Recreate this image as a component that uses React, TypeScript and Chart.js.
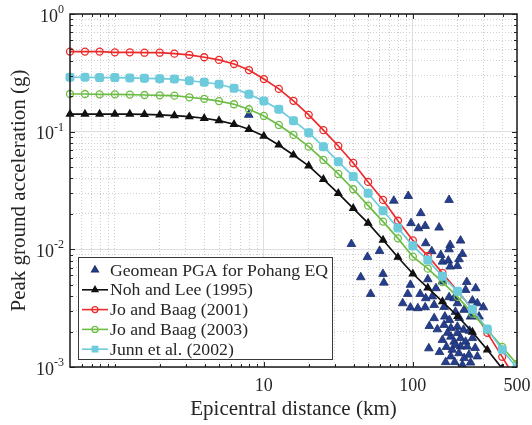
import React, { useEffect, useRef } from 'react';
import { Chart, registerables } from 'chart.js';

Chart.register(...registerables);

const FONT = "'Liberation Serif', 'Times New Roman', serif";
const TEXT = '#262626';

// Model evaluation distances (km)
const distanceKm = [0.5, 0.63, 0.79, 1.0, 1.26, 1.58, 2.0, 2.51, 3.16, 3.98, 5.0, 6.31, 7.94, 10.0, 12.6, 15.8, 20.0, 25.1, 31.6, 39.8, 50.1, 63.1, 79.4, 100, 126, 158, 200, 251, 316, 398, 500];

const nohLee1995 = [0.141, 0.141, 0.141, 0.141, 0.141, 0.1405, 0.1387, 0.1368, 0.134, 0.13, 0.124, 0.1156, 0.1048, 0.0919, 0.0771, 0.0634, 0.0512, 0.0394, 0.0299, 0.0223, 0.0167, 0.012, 0.00857, 0.0062, 0.0047, 0.0036, 0.0027, 0.00198, 0.0014, 0.00097, 0.00066];
const joBaag2001 = [0.479, 0.479, 0.479, 0.472, 0.472, 0.469, 0.469, 0.46, 0.449, 0.429, 0.407, 0.376, 0.334, 0.28, 0.231, 0.183, 0.139, 0.103, 0.0756, 0.0542, 0.0374, 0.0263, 0.0175, 0.0119, 0.0088, 0.0063, 0.0044, 0.0031, 0.00195, 0.00122, 0.00075];
const joBaag2003 = [0.209, 0.209, 0.2077, 0.2077, 0.2065, 0.205, 0.2037, 0.2024, 0.196, 0.19, 0.182, 0.171, 0.155, 0.136, 0.114, 0.0938, 0.0746, 0.0575, 0.0437, 0.0324, 0.0235, 0.0172, 0.0124, 0.00866, 0.00685, 0.00526, 0.00394, 0.00284, 0.00207, 0.00148, 0.00106];
const junn2002 = [0.29, 0.29, 0.288, 0.288, 0.286, 0.284, 0.282, 0.28, 0.271, 0.263, 0.253, 0.234, 0.208, 0.182, 0.155, 0.124, 0.098, 0.0746, 0.0556, 0.0415, 0.03, 0.0213, 0.0152, 0.0107, 0.0081, 0.0059, 0.0044, 0.0031, 0.0021, 0.0014, 0.00098];

// Observed geomean PGA (Pohang EQ)
const obsDistanceKm = [7.92, 74.5, 93.1, 175, 113, 97.2, 109, 121, 150, 38.7, 122, 209, 178, 175, 134, 154, 215, 158, 173, 204, 178, 199, 49.6, 59.8, 44.7, 63.0, 63.9, 52.1, 96.3, 92.4, 112, 85.5, 96.3, 108, 121, 126, 143, 135, 122, 139, 162, 175, 189, 199, 230, 264, 226, 251, 297, 221, 139, 164, 244, 278, 129, 146, 162, 180, 199, 158, 180, 189, 199, 209, 226, 251, 209, 232, 184, 204, 238, 271, 180, 128, 244, 221, 158, 193, 171, 215, 262, 191, 168, 271, 151, 166, 219, 240, 176, 205, 193];
const obsPga = [0.139, 0.0259, 0.0284, 0.0263, 0.0203, 0.0167, 0.0151, 0.0158, 0.0153, 0.0111, 0.01127, 0.01186, 0.0109, 0.01, 0.00964, 0.00896, 0.00914, 0.00786, 0.00802, 0.00824, 0.00713, 0.00723, 0.00861, 0.00969, 0.00579, 0.00618, 0.00521, 0.00418, 0.00499, 0.00418, 0.00418, 0.00348, 0.0032, 0.00316, 0.00322, 0.00557, 0.00467, 0.00398, 0.00384, 0.00337, 0.00324, 0.00392, 0.00384, 0.00348, 0.00528, 0.00467, 0.00452, 0.00367, 0.00322, 0.00306, 0.0026, 0.00268, 0.00268, 0.00268, 0.00223, 0.00209, 0.00228, 0.00214, 0.0022, 0.0017, 0.00181, 0.00164, 0.00194, 0.00176, 0.00164, 0.00176, 0.00149, 0.00149, 0.0014, 0.00131, 0.00127, 0.00123, 0.00123, 0.00144, 0.00109, 0.00119, 0.00532, 0.00154, 0.00195, 0.00104, 0.00145, 0.0011, 0.00148, 0.00348, 0.00134, 0.0011, 0.00207, 0.00203, 0.00251, 0.00261, 0.00294];

// Axis ticks
const xLabelTicks = [10, 100, 500];
const xMajorGrid = [10, 100];
const xMinorTicks = [0.6, 0.7, 0.8, 0.9, 1, 2, 3, 4, 5, 6, 7, 8, 9, 20, 30, 40, 50, 60, 70, 80, 90, 200, 300, 400];
const yMajorTicks = [0.001, 0.01, 0.1, 1];
const yExponents = ['-3', '-2', '-1', '0'];
const yMinorTicks = [0.002, 0.003, 0.004, 0.005, 0.006, 0.007, 0.008, 0.009, 0.02, 0.03, 0.04, 0.05, 0.06, 0.07, 0.08, 0.09, 0.2, 0.3, 0.4, 0.5, 0.6, 0.7, 0.8, 0.9];

const RED = '#ee2a2a';
const GREEN = '#6cbd45';
const CYAN = '#6dcbdc';
const BLACK = '#111111';
const BLUE = '#253f8e';
const BLUE_EDGE = '#1a2d68';

function drawMarker(ctx: CanvasRenderingContext2D, style: string, x: number, y: number, r: number, fill: string, stroke: string, lw: number) {
  ctx.save();
  ctx.beginPath();
  if (style === 'triangle') {
    ctx.moveTo(x, y - r);
    ctx.lineTo(x + 0.866 * r, y + 0.5 * r);
    ctx.lineTo(x - 0.866 * r, y + 0.5 * r);
    ctx.closePath();
  } else if (style === 'rectRounded' || style === 'rect') {
    const s = r * 0.8;
    ctx.rect(x - s, y - s, 2 * s, 2 * s);
  } else {
    ctx.arc(x, y, r, 0, Math.PI * 2);
  }
  if (fill && fill !== 'transparent') {
    ctx.fillStyle = fill;
    ctx.fill();
  }
  ctx.lineWidth = lw;
  ctx.strokeStyle = stroke;
  ctx.stroke();
  ctx.restore();
}

const decorPlugin = {
  id: 'decor',
  afterDatasetsDraw(chart: any) {
    const { ctx, chartArea: a, scales } = chart;
    const xs = scales.x;
    const ys = scales.y;
    ctx.save();
    ctx.strokeStyle = TEXT;
    ctx.lineWidth = 1;
    ctx.beginPath();
    const xt = (v: number, len: number) => {
      const px = Math.round(xs.getPixelForValue(v)) + 0.5;
      ctx.moveTo(px, a.bottom);
      ctx.lineTo(px, a.bottom - len);
      ctx.moveTo(px, a.top);
      ctx.lineTo(px, a.top + len);
    };
    const yt = (v: number, len: number) => {
      const py = Math.round(ys.getPixelForValue(v)) + 0.5;
      ctx.moveTo(a.left, py);
      ctx.lineTo(a.left + len, py);
      ctx.moveTo(a.right, py);
      ctx.lineTo(a.right - len, py);
    };
    xMinorTicks.forEach((v) => xt(v, 3));
    xMajorGrid.forEach((v) => xt(v, 5));
    yMinorTicks.forEach((v) => yt(v, 3));
    yMajorTicks.forEach((v) => yt(v, 5));
    ctx.stroke();
    ctx.lineWidth = 1.5;
    ctx.strokeStyle = '#1a1a1a';
    ctx.strokeRect(a.left, a.top, a.right - a.left, a.bottom - a.top);
    ctx.restore();
  },
  afterDraw(chart: any) {
    const { ctx, scales } = chart;
    const ys = scales.y;
    ctx.save();
    // y tick labels with superscript exponents
    ctx.fillStyle = TEXT;
    ctx.textBaseline = 'middle';
    ctx.textAlign = 'right';
    yMajorTicks.forEach((v, i) => {
      const py = ys.getPixelForValue(v);
      const right = 64;
      ctx.font = `12px ${FONT}`;
      const w = ctx.measureText(yExponents[i]).width;
      ctx.fillText(yExponents[i], right, py - 4);
      ctx.font = `18px ${FONT}`;
      ctx.fillText('10', right - w, py + 3);
    });

    // legend inside plot
    const bx = 78, by = 257, bw = 254, bh = 102;
    ctx.fillStyle = '#ffffff';
    ctx.fillRect(bx, by, bw, bh);
    ctx.lineWidth = 1;
    ctx.strokeStyle = '#3a3a3a';
    ctx.strokeRect(bx + 0.5, by + 0.5, bw, bh);
    const datasets = chart.data.datasets;
    datasets.forEach((ds: any, i: number) => {
      const ry = 270 + i * 19.8;
      if (ds.showLine !== false) {
        ctx.beginPath();
        ctx.strokeStyle = ds.borderColor;
        ctx.lineWidth = 1.6;
        ctx.moveTo(82, ry);
        ctx.lineTo(108, ry);
        ctx.stroke();
      }
      drawMarker(ctx, ds.pointStyle, 95, ry, ds.legendRadius, ds.pointBackgroundColor, ds.pointBorderColor, 1.2);
      ctx.fillStyle = TEXT;
      ctx.textAlign = 'left';
      ctx.textBaseline = 'middle';
      ctx.font = `17.7px ${FONT}`;
      ctx.fillText(ds.label, 110, ry + 1);
    });
    ctx.restore();
  },
};

export default function App() {
  const ref = useRef<HTMLCanvasElement | null>(null);

  useEffect(() => {
    if (!ref.current) return;
    const pts = (ys: number[]) => distanceKm.map((d, i) => ({ x: d, y: ys[i] }));
    const curveClip = { left: 8, top: 0, right: 0, bottom: 0 };
    const curve = (label: string, ys: number[], color: string, style: string, fill: string, r: number, lr: number, order: number) => ({
      label,
      data: pts(ys),
      borderColor: color,
      borderWidth: 1.7,
      pointStyle: style,
      pointRadius: r,
      pointBackgroundColor: fill,
      pointBorderColor: color,
      pointBorderWidth: 1.3,
      showLine: true,
      tension: 0,
      clip: curveClip,
      order,
      legendRadius: lr,
    });
    const chart = new Chart(ref.current, {
      type: 'line',
      data: {
        datasets: [
          {
            label: 'Geomean PGA for Pohang EQ',
            data: obsDistanceKm.map((d, i) => ({ x: d, y: obsPga[i] })),
            showLine: false,
            pointStyle: 'triangle',
            pointRadius: 5,
            pointBackgroundColor: BLUE,
            pointBorderColor: BLUE_EDGE,
            pointBorderWidth: 0.8,
            borderColor: BLUE,
            clip: 0,
            order: 5,
            legendRadius: 4,
          } as any,
          curve('Noh and Lee (1995)', nohLee1995, BLACK, 'triangle', BLACK, 4, 3.5, 4),
          curve('Jo and Baag (2001)', joBaag2001, RED, 'circle', 'transparent', 3.5, 3, 3),
          curve('Jo and Baag (2003)', joBaag2003, GREEN, 'circle', 'transparent', 3.5, 3, 2),
          curve('Junn et al. (2002)', junn2002, CYAN, 'rectRounded', CYAN, 4.5, 3.5, 1),
        ],
      },
      options: {
        animation: false,
        responsive: false,
        devicePixelRatio: 1,
        layout: { padding: { top: 14, right: 15, left: 0, bottom: 0 } },
        plugins: { legend: { display: false }, tooltip: { enabled: false } },
        scales: {
          x: {
            type: 'logarithmic',
            min: 0.5,
            max: 500,
            afterBuildTicks: (s: any) => {
              s.ticks = [...xMinorTicks, ...xLabelTicks].sort((p, q) => p - q).map((v) => ({ value: v }));
            },
            afterFit: (s: any) => {
              s.height = 58;
              s.paddingLeft = 0;
              s.paddingRight = 0;
            },
            ticks: {
              autoSkip: false,
              maxRotation: 0,
              padding: 8,
              color: TEXT,
              font: { family: FONT, size: 18 },
              callback: (v: any) => (xLabelTicks.includes(Number(v)) ? String(v) : ''),
            },
            grid: {
              drawTicks: false,
              lineWidth: 1,
              color: (c: any) => (c.tick && xMajorGrid.includes(c.tick.value) ? '#dedede' : '#cfcfcf'),
            },
            border: {
              display: false,
              dash: (c: any) => (c.tick && !xMajorGrid.includes(c.tick.value) ? [1, 2] : []),
            },
            title: {
              display: true,
              text: 'Epicentral distance (km)',
              color: TEXT,
              font: { family: FONT, size: 21 },
              padding: { top: 0, bottom: 3 },
            },
          } as any,
          y: {
            type: 'logarithmic',
            min: 0.001,
            max: 1,
            afterBuildTicks: (s: any) => {
              s.ticks = [...yMinorTicks, ...yMajorTicks].sort((p, q) => p - q).map((v) => ({ value: v }));
            },
            afterFit: (s: any) => {
              s.width = 70;
              s.paddingTop = 0;
              s.paddingBottom = 0;
            },
            ticks: { display: false },
            grid: {
              drawTicks: false,
              lineWidth: 1,
              color: (c: any) => (c.tick && yMajorTicks.includes(c.tick.value) ? '#dedede' : '#cfcfcf'),
            },
            border: {
              display: false,
              dash: (c: any) => (c.tick && !yMajorTicks.includes(c.tick.value) ? [1, 2] : []),
            },
            title: {
              display: true,
              text: 'Peak ground acceleration (g)',
              color: TEXT,
              font: { family: FONT, size: 21 },
              padding: { top: 7, bottom: 0 },
            },
          } as any,
        },
      } as any,
      plugins: [decorPlugin],
    });
    return () => chart.destroy();
  }, []);

  return (
    <div style={{ position: 'absolute', left: 0, top: 0, width: 532, height: 425, background: '#ffffff' }}>
      <canvas ref={ref} width={532} height={425} style={{ display: 'block' }} />
    </div>
  );
}
